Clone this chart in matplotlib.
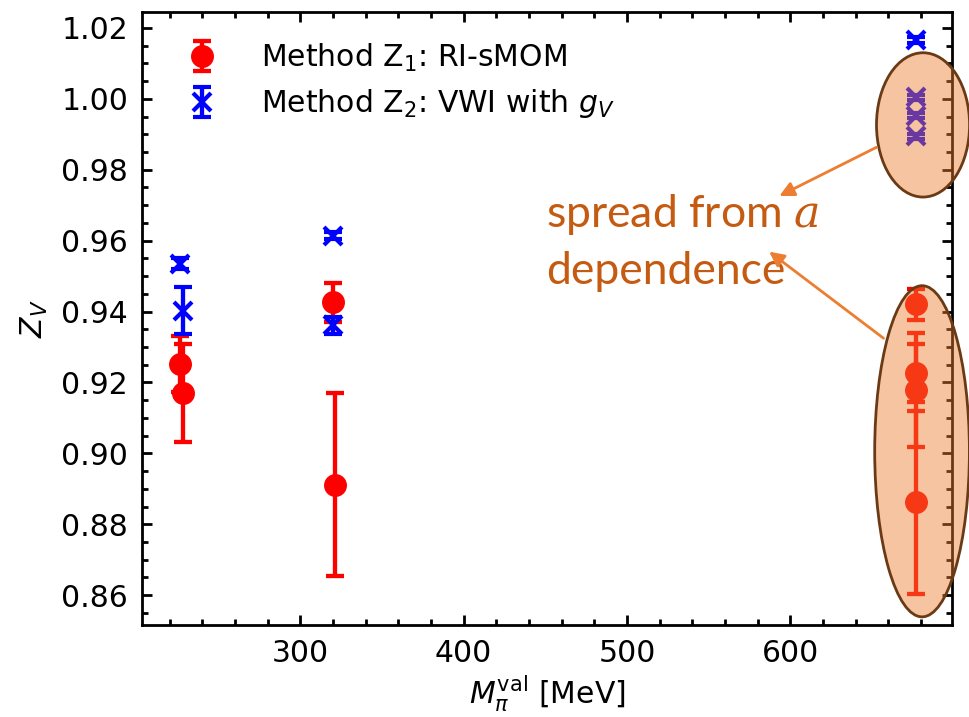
import matplotlib
matplotlib.use("Agg")
import matplotlib.pyplot as plt
from matplotlib.patches import Ellipse
from matplotlib.ticker import MultipleLocator

# Method Z1: RI-sMOM
mpi_z1 = [226, 228, 320, 321, 677, 677, 677, 677]
zv_z1 = [0.9252, 0.9170, 0.9426, 0.8912, 0.9420, 0.9227, 0.9179, 0.8862]
err_z1 = [0.0080, 0.0138, 0.0055, 0.0259, 0.0045, 0.0081, 0.0160, 0.0258]

# Method Z2: VWI with g_V
mpi_z2 = [226, 228, 320, 320, 677, 677, 677, 677]
zv_z2 = [0.9535, 0.9403, 0.9614, 0.9361, 1.0166, 1.0004, 0.9953, 0.9894]
err_z2 = [0.0015, 0.0065, 0.0010, 0.0024, 0.0008, 0.0008, 0.0008, 0.0008]

label_z1 = "Method Z$_1$: RI-sMOM"
label_z2 = "Method Z$_2$: VWI with $g_V$"

FS = 21.5
orange = "#ED7D31"
brown = "#6a3a14"

fig = plt.figure(figsize=(9.69, 7.17), dpi=100)
ax = fig.add_axes([0.1465, 0.1283, 0.8359, 0.8550])

ax.errorbar(mpi_z1, zv_z1, yerr=err_z1, fmt="o", color="red", ms=15.5,
            elinewidth=3.1, capsize=6.5, capthick=3.1, label=label_z1, zorder=3)
ax.errorbar(mpi_z2, zv_z2, yerr=err_z2, fmt="x", color="blue", ms=13,
            mew=3.0, elinewidth=3.1, capsize=6.5, capthick=3.1, label=label_z2, zorder=3)

ax.set_xlim(203, 699)
ax.set_ylim(0.8516, 1.0245)
ax.xaxis.set_major_locator(MultipleLocator(100))
ax.xaxis.set_minor_locator(MultipleLocator(20))
ax.yaxis.set_major_locator(MultipleLocator(0.02))
ax.yaxis.set_minor_locator(MultipleLocator(0.005))
ax.yaxis.set_major_formatter(plt.FormatStrFormatter("%.2f"))
ax.tick_params(which="both", direction="in", top=True, right=True,
               labelsize=FS, width=2, pad=10)
ax.tick_params(which="major", length=7.5)
ax.tick_params(which="minor", length=4)
for s in ax.spines.values():
    s.set_linewidth(2)

ax.set_xlabel(r"$M_\pi^{\rm val}$ [MeV]", fontsize=FS, labelpad=4)
ax.set_ylabel(r"$Z_V$", fontsize=FS, labelpad=8)

ax.legend(loc="upper left", frameon=False, fontsize=FS, handletextpad=1.0,
          borderaxespad=0.6, labelspacing=0.45, handlelength=2.0)

# shaded ellipses marking the spread
for cx, cy, w, h in [(681.3, 0.99265, 57, 0.0407), (680.7, 0.9006, 58, 0.0934)]:
    e = Ellipse((cx, cy), w, h, facecolor=(0.93, 0.49, 0.19, 0.45),
                edgecolor=brown, lw=2, zorder=10, clip_on=False)
    ax.add_patch(e)

ax.text(450.3, 0.9639, "spread from $a$", family="Lato", fontsize=32,
        color="#C55A11", va="baseline", ha="left", math_fontfamily="dejavuserif", zorder=11)
ax.text(450.3, 0.9479, "dependence", family="Lato", fontsize=32,
        color="#C55A11", va="baseline", ha="left", zorder=11)

arrow = dict(arrowstyle="-|>", color=orange, lw=2, mutation_scale=22, shrinkA=0, shrinkB=0)
ax.annotate("", xy=(593.3, 0.9726), xytext=(652.8, 0.98634), arrowprops=arrow,
            annotation_clip=False, zorder=12)
ax.annotate("", xy=(587.1, 0.95689), xytext=(657.1, 0.93248), arrowprops=arrow,
            annotation_clip=False, zorder=12)

# top of the next panel's tick label, cut off by the figure edge
fig.text(130 / 969, -30 / 717, "1.00", fontsize=FS, ha="right", va="bottom")

fig.savefig("out.png", dpi=100)
